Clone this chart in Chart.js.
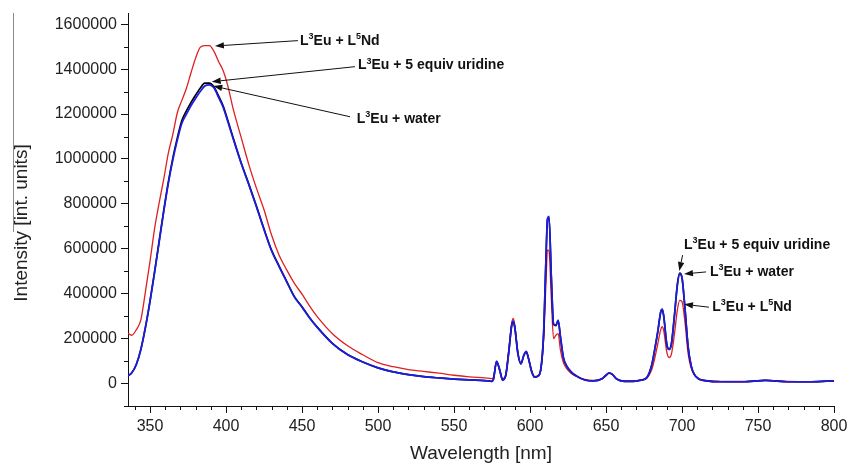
<!DOCTYPE html>
<html><head><meta charset="utf-8">
<script src="https://cdn.jsdelivr.net/npm/chart.js@4.4.0/dist/chart.umd.min.js"></script>
<style>html,body{margin:0;padding:0;background:#fff}#wrap{width:847px;height:464px}canvas{display:block}</style>
</head><body><div id="wrap"><canvas id="c" width="847" height="464"></canvas></div>
<script>
// Wavelength grid (nm)
const wavelengths = [
  335, 338, 341, 344, 347, 350, 353, 356, 359, 362, 365, 368, 371, 374, 377, 380, 383, 386, 389, 392, 395, 398, 401, 405, 410, 415, 420, 425, 430, 435, 440, 445, 450,
  455, 460, 470, 480, 490, 500, 510, 520, 530, 540, 550, 560,
  570, 575, 576, 578, 580, 582, 584, 586, 588, 589, 590, 592, 594, 596, 597.5, 599, 601, 603,
  605, 607, 609, 610.5, 611.5, 612.5, 614, 615.5, 617, 618.5, 620, 622, 624, 627, 631, 636, 642,
  647, 650, 652, 654, 657, 662, 668, 673, 677,
  680, 682, 684, 686, 687, 688, 690, 691.5, 693, 695, 697, 698.5, 700, 702, 704, 706, 708, 711,
  716, 725, 740, 755, 770, 785, 800
];
// L3Eu + water (blue)
const waterValues = [
  33000, 48000, 85000, 152000, 250000, 366000, 495000, 630000, 765000, 890000, 996000, 1085000, 1160000, 1200000, 1238000, 1270000, 1300000, 1325000, 1330000, 1317000, 1275000, 1232000, 1170000, 1083000, 980000, 885000, 787000, 685000, 590000, 520000, 452000, 385000, 340000,
  292000, 250000, 178000, 128000, 96000, 70000, 52000, 40000, 31000, 25000, 20000, 16000,
  13000, 10000, 20000, 100000, 62000, 15000, 35000, 140000, 262000, 278000, 250000, 135000, 88000, 128000, 143000, 112000, 55000, 28000,
  32000, 60000, 230000, 560000, 735000, 745000, 480000, 265000, 260000, 282000, 210000, 115000, 80000, 52000, 32000, 16000, 12000,
  20000, 37000, 48000, 42000, 20000, 10000, 10000, 15000, 28000,
  80000, 150000, 230000, 320000, 332000, 300000, 175000, 152000, 175000, 300000, 440000, 488000, 470000, 330000, 165000, 80000, 42000, 20000,
  12000, 8000, 8000, 14000, 8000, 8000, 12000
];
// L3Eu + 5 equiv uridine (black)
const uridineValues = [
  33000, 48000, 86000, 154000, 252000, 368000, 498000, 634000, 770000, 896000, 1004000, 1095000, 1172000, 1215000, 1252000, 1285000, 1315000, 1338000, 1338000, 1322000, 1282000, 1238000, 1176000, 1088000, 982000, 888000, 790000, 688000, 593000, 522000, 454000, 387000, 342000,
  293000, 251000, 179000, 129000, 96000, 70000, 52000, 40000, 31000, 25000, 20000, 16000,
  13000, 10000, 20000, 98000, 62000, 15000, 35000, 138000, 260000, 276000, 248000, 134000, 88000, 126000, 141000, 111000, 55000, 28000,
  32000, 60000, 228000, 555000, 730000, 740000, 478000, 264000, 258000, 280000, 208000, 114000, 80000, 52000, 32000, 16000, 12000,
  20000, 37000, 47000, 42000, 20000, 10000, 10000, 15000, 28000,
  80000, 150000, 228000, 318000, 330000, 298000, 175000, 152000, 176000, 302000, 445000, 492000, 472000, 330000, 165000, 80000, 42000, 20000,
  12000, 8000, 8000, 14000, 8000, 8000, 12000
];
// L3Eu + L5Nd (red)
const ndValues = [
  226000, 215000, 240000, 285000, 410000, 545000, 690000, 805000, 910000, 1025000, 1110000, 1207000, 1262000, 1316000, 1385000, 1450000, 1497000, 1505000, 1505000, 1480000, 1435000, 1395000, 1330000, 1215000, 1095000, 975000, 870000, 774000, 660000, 570000, 505000, 446000, 398000,
  345000, 298000, 222000, 168000, 128000, 93000, 75000, 62000, 54000, 46000, 37000, 30000,
  25000, 22000, 30000, 97000, 60000, 22000, 40000, 150000, 270000, 290000, 260000, 140000, 90000, 128000, 143000, 115000, 60000, 32000,
  35000, 60000, 200000, 450000, 595000, 590000, 380000, 200000, 215000, 222000, 150000, 92000, 68000, 46000, 30000, 18000, 14000,
  20000, 35000, 45000, 40000, 20000, 12000, 12000, 15000, 25000,
  60000, 110000, 175000, 240000, 253000, 235000, 140000, 116000, 130000, 220000, 330000, 370000, 365000, 270000, 134000, 70000, 40000, 22000,
  14000, 10000, 9000, 14000, 9000, 8000, 11000
];
const xTickValues = [350, 400, 450, 500, 550, 600, 650, 700, 750, 800];
const yTickValues = [0, 200000, 400000, 600000, 800000, 1000000, 1200000, 1400000, 1600000];

// Annotation callouts, in data coordinates (nm, intensity)
const callouts = [
  { text: 'L^3Eu + L^5Nd',           tx: 448.7, ty: 1525000, fx: 447.3, fy: 1527000, ax: 392.7, ay: 1503000 },
  { text: 'L^3Eu + 5 equiv uridine', tx: 486.8, ty: 1416000, fx: 484.8, fy: 1411000, ax: 390.6, ay: 1344000 },
  { text: 'L^3Eu + water',           tx: 486.0, ty: 1178000, fx: 481.6, fy: 1188000, ax: 391.6, ay: 1325000 },
  { text: 'L^3Eu + 5 equiv uridine', tx: 701.3, ty: 617000,  fx: 700.4, fy: 572000,  ax: 698.2, ay: 501000 },
  { text: 'L^3Eu + water',           tx: 718.4, ty: 498000,  fx: 715.8, fy: 497000,  ax: 701.3, ay: 488000 },
  { text: 'L^3Eu + L^5Nd',           tx: 719.9, ty: 340000,  fx: 717.7, fy: 340000,  ax: 701.3, ay: 353000 }
];
const yTitle = 'Intensity [int. units]';

function toPoints(vals) { return wavelengths.map((w, i) => ({ x: w, y: vals[i] })); }

const FONT = "'Liberation Sans', Arial, sans-serif";

function drawRichText(ctx, str, x, y) {
  const parts = str.split(/\^(\d)/);
  let cx = x;
  parts.forEach((p, i) => {
    if (!p) return;
    const sup = i % 2 === 1;
    ctx.font = sup ? 'bold 9px ' + FONT : 'bold 14px ' + FONT;
    ctx.fillText(p, cx, sup ? y - 4.5 : y);
    cx += ctx.measureText(p).width;
  });
}

const decorPlugin = {
  id: 'decor',
  afterDraw(chart) {
    const { ctx, chartArea, scales: { x, y } } = chart;
    ctx.save();
    // minor ticks
    ctx.strokeStyle = '#111';
    ctx.lineWidth = 1;
    ctx.beginPath();
    for (let v = 340; v < 800; v += 10) {
      if (v % 50 === 0) continue;
      const px = Math.round(x.getPixelForValue(v)) + 0.5;
      ctx.moveTo(px, chartArea.bottom);
      ctx.lineTo(px, chartArea.bottom + 4);
    }
    for (let v = -100000; v <= 1600000; v += 200000) {
      const py = Math.round(y.getPixelForValue(v)) + 0.5;
      ctx.moveTo(chartArea.left, py);
      ctx.lineTo(chartArea.left - 4, py);
    }
    ctx.stroke();
    // faint vertical rule at far left (as in the scanned figure)
    ctx.strokeStyle = '#8a8a8a';
    ctx.beginPath();
    ctx.moveTo(13.5, chartArea.top);
    ctx.lineTo(13.5, 232);
    ctx.stroke();
    // y-axis title
    ctx.save();
    ctx.translate(21.5, 223);
    ctx.rotate(-Math.PI / 2);
    ctx.fillStyle = '#222';
    ctx.font = '19px ' + FONT;
    ctx.textAlign = 'center';
    ctx.textBaseline = 'middle';
    ctx.fillText(yTitle, 0, 0);
    ctx.restore();
    // callouts
    ctx.fillStyle = '#111';
    ctx.strokeStyle = '#111';
    ctx.lineWidth = 1;
    callouts.forEach(c => {
      const fx = x.getPixelForValue(c.fx), fy = y.getPixelForValue(c.fy);
      const ax = x.getPixelForValue(c.ax), ay = y.getPixelForValue(c.ay);
      const ang = Math.atan2(ay - fy, ax - fx);
      const L = 9, H = 3.2;
      const bx = ax - L * Math.cos(ang), by = ay - L * Math.sin(ang);
      ctx.beginPath();
      ctx.moveTo(fx, fy);
      ctx.lineTo(bx, by);
      ctx.stroke();
      ctx.beginPath();
      ctx.moveTo(ax, ay);
      ctx.lineTo(bx + H * Math.sin(ang), by - H * Math.cos(ang));
      ctx.lineTo(bx - H * Math.sin(ang), by + H * Math.cos(ang));
      ctx.closePath();
      ctx.fill();
      ctx.textBaseline = 'middle';
      ctx.textAlign = 'left';
      drawRichText(ctx, c.text, x.getPixelForValue(c.tx), y.getPixelForValue(c.ty));
    });
    ctx.restore();
  }
};

const lineDefaults = { showLine: true, pointRadius: 0, pointHoverRadius: 0, cubicInterpolationMode: 'monotone', fill: false };

new Chart(document.getElementById('c'), {
  type: 'scatter',
  data: {
    datasets: [
      Object.assign({ label: 'L3Eu + water', data: toPoints(waterValues), borderColor: '#1c1ce8', borderWidth: 1.7 }, lineDefaults),
      Object.assign({ label: 'L3Eu + 5 equiv uridine', data: toPoints(uridineValues), borderColor: '#000000', borderWidth: 1.7 }, lineDefaults),
      Object.assign({ label: 'L3Eu + L5Nd', data: toPoints(ndValues), borderColor: '#e01f1f', borderWidth: 1.3 }, lineDefaults)
    ]
  },
  options: {
    responsive: false,
    animation: false,
    devicePixelRatio: 1,
    layout: { padding: { top: 13, right: 13, left: 0, bottom: 0 } },
    plugins: { legend: { display: false }, tooltip: { enabled: false } },
    scales: {
      x: {
        type: 'linear', min: 335.5, max: 800,
        afterBuildTicks: s => { s.ticks = xTickValues.map(v => ({ value: v })); },
        afterFit: s => { s.height = 58; s.paddingRight = 0; s.paddingLeft = 0; },
        grid: { display: true, drawOnChartArea: false, drawTicks: true, tickLength: 7, color: '#111', lineWidth: 1 },
        border: { display: true, color: '#111', width: 1 },
        ticks: { padding: 4, autoSkip: false, maxRotation: 0, color: '#222', font: { family: FONT, size: 16 }, callback: v => String(v) },
        title: { display: true, text: 'Wavelength [nm]', color: '#222', font: { family: FONT, size: 19, lineHeight: 1 }, padding: { top: 0, bottom: 0.5 } }
      },
      y: {
        type: 'linear', min: -100000, max: 1650000,
        afterBuildTicks: s => { s.ticks = yTickValues.map(v => ({ value: v })); },
        afterFit: s => { s.width = 128; s.paddingTop = 0; s.paddingBottom = 0; },
        grid: { display: true, drawOnChartArea: false, drawTicks: true, tickLength: 7, color: '#111', lineWidth: 1 },
        border: { display: true, color: '#111', width: 1 },
        ticks: { padding: 4, autoSkip: false, color: '#222', font: { family: FONT, size: 16 }, callback: v => String(v) },
        title: { display: false }
      }
    }
  },
  plugins: [decorPlugin]
});
</script>
</body></html>
